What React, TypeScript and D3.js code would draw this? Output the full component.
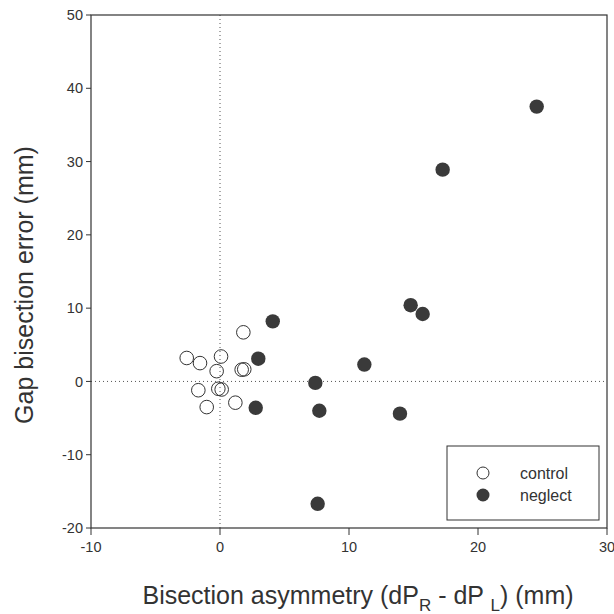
import React from "react";
import * as d3 from "d3";

const controlX = [1.81, -2.58, -1.55, 0.08, -0.26, 1.68, 1.88, -1.68, -0.13, 0.13, -1.03, 1.19];
const controlY = [6.7, 3.2, 2.5, 3.4, 1.4, 1.6, 1.65, -1.2, -1.0, -1.1, -3.5, -2.9];
const neglectX = [24.55, 17.26, 14.78, 15.71, 4.09, 2.97, 11.19, 7.39, 2.77, 7.7, 13.95, 7.57];
const neglectY = [37.5, 28.9, 10.4, 9.2, 8.2, 3.1, 2.3, -0.2, -3.6, -4.0, -4.4, -16.7];
const xTicks = [-10, 0, 10, 20, 30];
const yTicks = [-20, -10, 0, 10, 20, 30, 40, 50];
const legendLabels = ["control", "neglect"];

export default function App() {
  const W = 614, H = 614;
  const L = 91, R = 607, T = 15, B = 528;
  const x = d3.scaleLinear().domain([-10, 30]).range([L, R]);
  const y = d3.scaleLinear().domain([-20, 50]).range([B, T]);
  const font = "Liberation Sans, Arial, sans-serif";
  const txt = "#333";
  const fill = "#3a3a3a";
  const r = 6.8;
  return (
    <svg width={W} height={H} style={{ position: "absolute", left: 0, top: 0 }} fontFamily={font}>
      <rect x={0} y={0} width={W} height={H} fill="#fff" />
      {/* reference lines */}
      <line x1={x(0)} x2={x(0)} y1={T} y2={B} stroke="#555" strokeWidth={1} strokeDasharray="1,3" />
      <line x1={L} x2={R} y1={y(0)} y2={y(0)} stroke="#555" strokeWidth={1} strokeDasharray="1,3" />
      {/* frame */}
      <rect x={L} y={T} width={R - L} height={B - T} fill="none" stroke="#333" strokeWidth={1.2} />
      {/* y ticks */}
      {yTicks.map((t) => (
        <g key={"y" + t}>
          <line x1={L - 5} x2={L} y1={y(t)} y2={y(t)} stroke="#333" strokeWidth={1} />
          <text x={L - 8} y={y(t)} dy="0.35em" textAnchor="end" fontSize={14.5} fill={txt}>{t}</text>
        </g>
      ))}
      {/* x ticks */}
      {xTicks.map((t) => (
        <g key={"x" + t}>
          <line x1={x(t)} x2={x(t)} y1={B} y2={B + 7} stroke="#333" strokeWidth={1} />
          <text x={x(t)} y={552} textAnchor="middle" fontSize={14.5} fill={txt}>{t}</text>
        </g>
      ))}
      {/* points */}
      {controlX.map((v, i) => (
        <circle key={"c" + i} cx={x(v)} cy={y(controlY[i])} r={r} fill="#fff" fillOpacity={0} stroke="#333" strokeWidth={1} />
      ))}
      {neglectX.map((v, i) => (
        <circle key={"n" + i} cx={x(v)} cy={y(neglectY[i])} r={r + 0.4} fill={fill} />
      ))}
      {/* legend */}
      <rect x={447} y={446} width={152} height={74} fill="#fff" stroke="#333" strokeWidth={1} />
      <circle cx={483} cy={473} r={6} fill="#fff" stroke="#333" strokeWidth={1} />
      <circle cx={483} cy={495} r={6.5} fill={fill} />
      <text x={520} y={473} dy="0.35em" fontSize={16} fill={txt}>{legendLabels[0]}</text>
      <text x={520} y={495} dy="0.35em" fontSize={16} fill={txt}>{legendLabels[1]}</text>
      {/* axis titles */}
      <text x={358} y={604} textAnchor="middle" fontSize={25} fill={txt}>
        Bisection asymmetry (dP<tspan fontSize={17} dy={7}>R</tspan>
        <tspan dy={-7}> - dP </tspan><tspan fontSize={17} dy={7}>L</tspan>
        <tspan dy={-7}>) (mm)</tspan>
      </text>
      <text transform={`translate(33, 285) rotate(-90)`} textAnchor="middle" fontSize={25} fill={txt}>
        Gap bisection error (mm)
      </text>
    </svg>
  );
}
